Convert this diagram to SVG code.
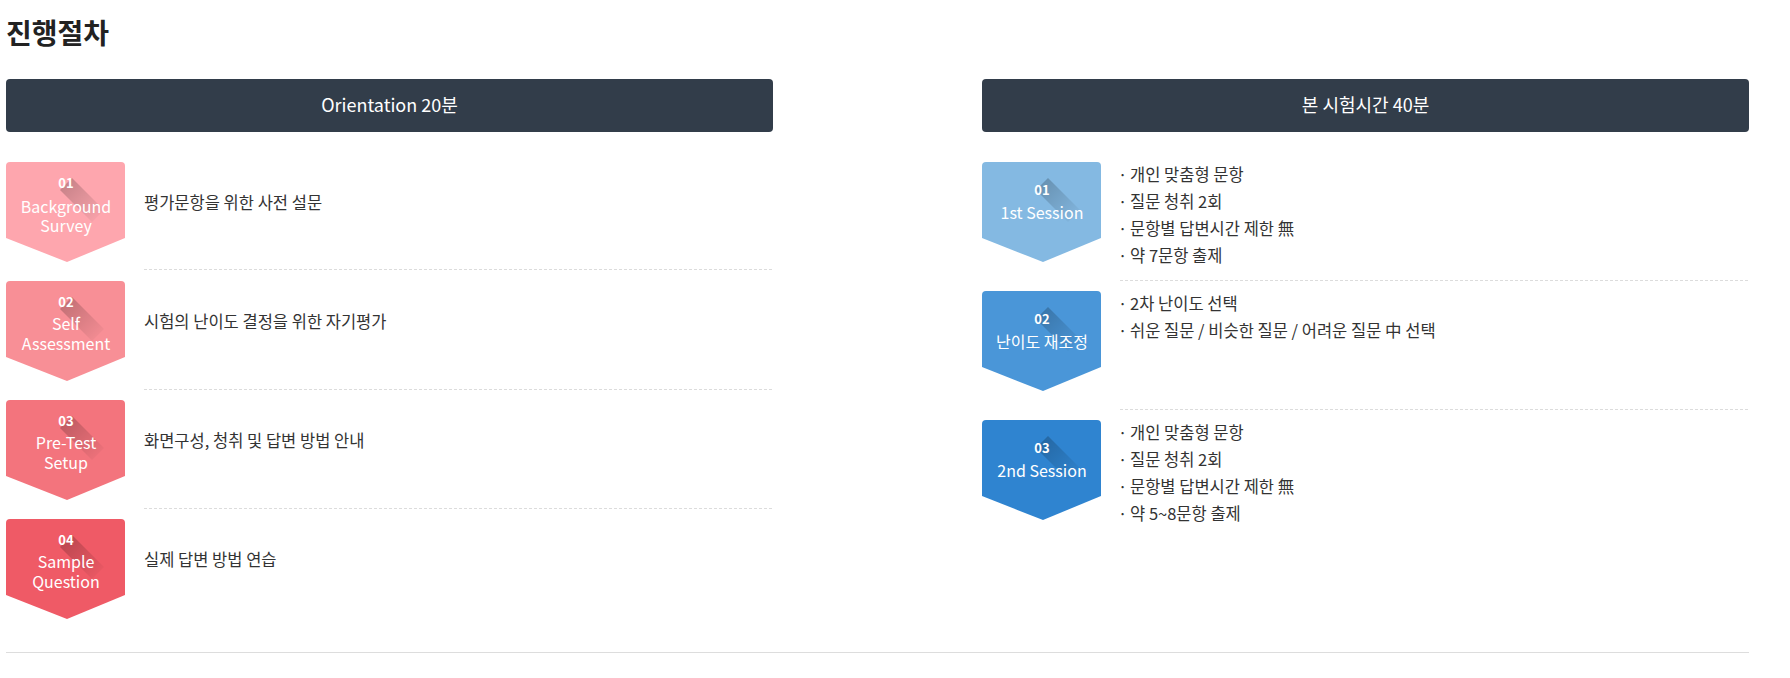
<svg xmlns="http://www.w3.org/2000/svg" width="1790" height="678" viewBox="0 0 1790 678">
<style>
text{font-family:"Noto Sans CJK KR","Noto Sans",sans-serif;}
.title{font-size:28px;font-weight:bold;fill:#222;}
.hdr{font-size:18px;fill:#fff;text-anchor:middle;}
.num{font-size:13px;font-weight:bold;fill:#fff;text-anchor:middle;}
.lbl{font-size:16px;fill:#fff;text-anchor:middle;}
.desc{font-size:16.5px;fill:#333;}
.dash{stroke:#dcdcdc;stroke-width:1;stroke-dasharray:3 2;fill:none;}
</style>
<defs>
<path id="badge" d="M4,0 H115 Q119,0 119,4 V76 L61,100 L0,76 V4 Q0,0 4,0 Z"/>
<linearGradient id="sh" x1="0" y1="0" x2="1" y2="1">
<stop offset="0" stop-color="#000" stop-opacity="0.24"/>
<stop offset="1" stop-color="#000" stop-opacity="0"/>
</linearGradient>
<polygon id="shadow" points="54,28 66,16 98,48 86,60" fill="url(#sh)"/>
</defs>
<rect width="1790" height="678" fill="#fff"/>
<text class="title" x="6" y="44">진행절차</text>
<g id="hdr-left"><rect x="6" y="79" width="767" height="53" rx="4" fill="#323d4a"/><text class="hdr" x="389.5" y="112">Orientation 20분</text></g>
<g id="hdr-right"><rect x="982" y="79" width="767" height="53" rx="4" fill="#323d4a"/><text class="hdr" x="1365.5" y="112">본 시험시간 40분</text></g>

<g id="l1" transform="translate(6,162)"><use href="#badge" fill="#fea6ae"/><use href="#shadow"/><text class="num" x="60" y="26">01</text><text class="lbl" x="60" y="51">Background</text><text class="lbl" x="60" y="70">Survey</text><text class="desc" x="138" y="47">평가문항을 위한 사전 설문</text></g>
<g id="l2" transform="translate(6,281)"><use href="#badge" fill="#f88f96"/><use href="#shadow"/><text class="num" x="60" y="26">02</text><text class="lbl" x="60" y="49">Self</text><text class="lbl" x="60" y="69">Assessment</text><text class="desc" x="138" y="47">시험의 난이도 결정을 위한 자기평가</text></g>
<g id="l3" transform="translate(6,400)"><use href="#badge" fill="#f3747d"/><use href="#shadow"/><text class="num" x="60" y="26">03</text><text class="lbl" x="60" y="49">Pre-Test</text><text class="lbl" x="60" y="69">Setup</text><text class="desc" x="138" y="47">화면구성, 청취 및 답변 방법 안내</text></g>
<g id="l4" transform="translate(6,519)"><use href="#badge" fill="#ef5a66"/><use href="#shadow"/><text class="num" x="60" y="26">04</text><text class="lbl" x="60" y="49">Sample</text><text class="lbl" x="60" y="69">Question</text><text class="desc" x="138" y="47">실제 답변 방법 연습</text></g>

<g id="r1" transform="translate(982,162)"><use href="#badge" fill="#84b9e2"/><use href="#shadow"/><text class="num" x="60" y="33">01</text><text class="lbl" x="60" y="57">1st Session</text>
<g class="desc"><text x="136" y="19">·</text><text x="148" y="19">개인 맞춤형 문항</text><text x="136" y="46">·</text><text x="148" y="46">질문 청취 2회</text><text x="136" y="73">·</text><text x="148" y="73">문항별 답변시간 제한 無</text><text x="136" y="100">·</text><text x="148" y="100">약 7문항 출제</text></g></g>
<g id="r2" transform="translate(982,291)"><use href="#badge" fill="#4a96d8"/><use href="#shadow"/><text class="num" x="60" y="33">02</text><text class="lbl" x="60" y="57">난이도 재조정</text>
<g class="desc"><text x="136" y="19">·</text><text x="148" y="19">2차 난이도 선택</text><text x="136" y="46">·</text><text x="148" y="46">쉬운 질문 / 비슷한 질문 / 어려운 질문 中 선택</text></g></g>
<g id="r3" transform="translate(982,420)"><use href="#badge" fill="#2f84d0"/><use href="#shadow"/><text class="num" x="60" y="33">03</text><text class="lbl" x="60" y="57">2nd Session</text>
<g class="desc"><text x="136" y="19">·</text><text x="148" y="19">개인 맞춤형 문항</text><text x="136" y="46">·</text><text x="148" y="46">질문 청취 2회</text><text x="136" y="73">·</text><text x="148" y="73">문항별 답변시간 제한 無</text><text x="136" y="100">·</text><text x="148" y="100">약 5~8문항 출제</text></g></g>

<g id="separators">
<line class="dash" x1="144" y1="269.5" x2="773" y2="269.5"/>
<line class="dash" x1="144" y1="389.5" x2="773" y2="389.5"/>
<line class="dash" x1="144" y1="508.5" x2="773" y2="508.5"/>
<line class="dash" x1="1120" y1="280.5" x2="1749" y2="280.5"/>
<line class="dash" x1="1120" y1="409.5" x2="1749" y2="409.5"/>
<line x1="6" y1="652.5" x2="1749" y2="652.5" stroke="#dddddd" stroke-width="1"/>
</g>
</svg>
